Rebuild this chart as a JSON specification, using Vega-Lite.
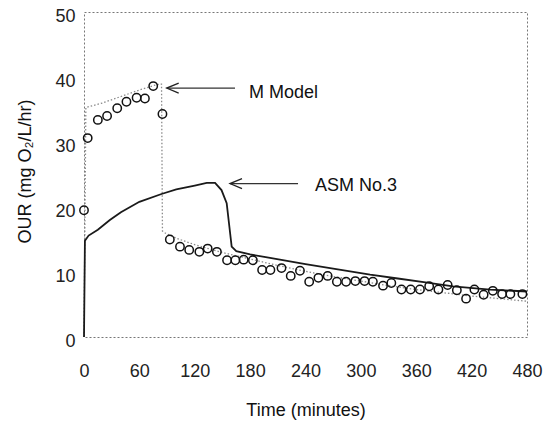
{
  "$schema": "https://vega.github.io/schema/vega-lite/v6.json",
  "autosize": {"type": "none"},
  "width": 443,
  "height": 325,
  "padding": {"left": 84, "top": 12, "right": 26, "bottom": 87},
  "background": "white",
  "config": {
    "view": {"stroke": "#777", "strokeWidth": 1, "strokeDash": [2, 2]},
    "font": "Liberation Sans"
  },
  "datasets": {
    "measured": [
      {"t": 0, "our": 19.5}, {"t": 4, "our": 30.6}, {"t": 15, "our": 33.4}, {"t": 25, "our": 34.0},
      {"t": 36, "our": 35.2}, {"t": 46, "our": 36.2}, {"t": 57, "our": 36.8}, {"t": 66, "our": 36.7},
      {"t": 75, "our": 38.6}, {"t": 85, "our": 34.3},
      {"t": 93, "our": 15.0}, {"t": 104, "our": 13.9}, {"t": 114, "our": 13.4}, {"t": 125, "our": 13.1},
      {"t": 134, "our": 13.6}, {"t": 144, "our": 13.1}, {"t": 155, "our": 11.8}, {"t": 164, "our": 11.8},
      {"t": 173, "our": 11.9}, {"t": 183, "our": 11.8}, {"t": 193, "our": 10.3}, {"t": 202, "our": 10.3},
      {"t": 214, "our": 10.6}, {"t": 224, "our": 9.4}, {"t": 234, "our": 10.2}, {"t": 244, "our": 8.5},
      {"t": 254, "our": 9.1}, {"t": 264, "our": 9.4}, {"t": 274, "our": 8.5}, {"t": 284, "our": 8.5},
      {"t": 294, "our": 8.6}, {"t": 304, "our": 8.6}, {"t": 313, "our": 8.5}, {"t": 324, "our": 7.9},
      {"t": 333, "our": 8.3}, {"t": 344, "our": 7.3}, {"t": 354, "our": 7.3}, {"t": 364, "our": 7.3},
      {"t": 374, "our": 7.8}, {"t": 384, "our": 7.3}, {"t": 394, "our": 8.0}, {"t": 404, "our": 7.2},
      {"t": 414, "our": 5.9}, {"t": 423, "our": 7.3}, {"t": 433, "our": 6.5}, {"t": 443, "our": 7.1},
      {"t": 453, "our": 6.6}, {"t": 462, "our": 6.6}, {"t": 475, "our": 6.6}
    ],
    "mmodel": [
      {"i": 0, "t": 0, "our": 0}, {"i": 1, "t": 2, "our": 35.3}, {"i": 2, "t": 20, "our": 36.0},
      {"i": 3, "t": 40, "our": 37.0}, {"i": 4, "t": 60, "our": 38.0}, {"i": 5, "t": 78, "our": 38.8},
      {"i": 6, "t": 84, "our": 38.9}, {"i": 7, "t": 85, "our": 16.3}, {"i": 8, "t": 88, "our": 16.0},
      {"i": 9, "t": 100, "our": 15.2}, {"i": 10, "t": 120, "our": 14.2}, {"i": 11, "t": 150, "our": 13.0},
      {"i": 12, "t": 180, "our": 12.0}, {"i": 13, "t": 210, "our": 11.0}, {"i": 14, "t": 240, "our": 10.1},
      {"i": 15, "t": 270, "our": 9.3}, {"i": 16, "t": 300, "our": 8.6}, {"i": 17, "t": 330, "our": 7.9},
      {"i": 18, "t": 360, "our": 7.3}, {"i": 19, "t": 390, "our": 6.8}, {"i": 20, "t": 420, "our": 6.3},
      {"i": 21, "t": 450, "our": 5.9}, {"i": 22, "t": 480, "our": 5.5}
    ],
    "asm": [
      {"i": 0, "t": 0, "our": 0}, {"i": 1, "t": 1, "our": 14.8}, {"i": 2, "t": 5, "our": 15.6},
      {"i": 3, "t": 15, "our": 16.5}, {"i": 4, "t": 28, "our": 18.0}, {"i": 5, "t": 40, "our": 19.2},
      {"i": 6, "t": 60, "our": 20.8}, {"i": 7, "t": 84, "our": 22.0}, {"i": 8, "t": 100, "our": 22.7},
      {"i": 9, "t": 120, "our": 23.3}, {"i": 10, "t": 133, "our": 23.7}, {"i": 11, "t": 142, "our": 23.7},
      {"i": 12, "t": 149, "our": 22.6}, {"i": 13, "t": 154.6, "our": 20.6}, {"i": 14, "t": 157.5, "our": 17.0},
      {"i": 15, "t": 160, "our": 13.9}, {"i": 16, "t": 165, "our": 13.2}, {"i": 17, "t": 180, "our": 12.7},
      {"i": 18, "t": 200, "our": 12.2}, {"i": 19, "t": 240, "our": 11.2}, {"i": 20, "t": 280, "our": 10.3},
      {"i": 21, "t": 310, "our": 9.6}, {"i": 22, "t": 340, "our": 9.0}, {"i": 23, "t": 370, "our": 8.4},
      {"i": 24, "t": 400, "our": 7.8}, {"i": 25, "t": 440, "our": 7.3}, {"i": 26, "t": 480, "our": 7.0}
    ],
    "arrows": [
      {"label": "M Model", "t": 89.6, "our": 38.3},
      {"label": "M Model", "t": 163.6, "our": 38.3},
      {"label": "ASM No.3", "t": 158.2, "our": 23.6},
      {"label": "ASM No.3", "t": 231.9, "our": 23.6}
    ],
    "heads": [
      {"label": "M Model", "t": 89.6, "our": 38.3},
      {"label": "ASM No.3", "t": 158.2, "our": 23.6}
    ],
    "labels": [
      {"label": "M Model", "t": 178.8, "our": 37.5},
      {"label": "ASM No.3", "t": 250.3, "our": 23.2}
    ]
  },
  "encoding": {
    "x": {
      "field": "t", "type": "quantitative",
      "scale": {"domain": [0, 480], "nice": false, "zero": false},
      "axis": {
        "title": "Time (minutes)",
        "values": [0, 60, 120, 180, 240, 300, 360, 420, 480],
        "grid": false, "ticks": false, "domain": false,
        "labelFontSize": 18, "labelFont": "Liberation Sans", "labelColor": "#222",
        "labelPadding": 25, "labelFlush": false,
        "titleFontSize": 18, "titleFont": "Liberation Sans", "titleFontWeight": "normal",
        "titleColor": "#111", "titleY": 73, "titleBaseline": "middle"
      }
    },
    "y": {
      "field": "our", "type": "quantitative",
      "scale": {"domain": [0, 50], "nice": false},
      "axis": {
        "title": "OUR (mg O₂/L/hr)",
        "values": [0, 10, 20, 30, 40, 50],
        "grid": false, "ticks": false, "domain": false,
        "labelFontSize": 18, "labelFont": "Liberation Sans", "labelColor": "#222",
        "labelPadding": 9, "labelOffset": 4, "labelFlush": false,
        "titleFontSize": 18, "titleFont": "Liberation Sans", "titleFontWeight": "normal",
        "titleColor": "#111", "titleX": -59, "titleY": 159, "titleAngle": 270,
        "titleBaseline": "middle", "titleAlign": "center"
      }
    }
  },
  "layer": [
    {
      "data": {"name": "mmodel"},
      "mark": {"type": "line", "color": "#8a8a8a", "strokeWidth": 1.3, "strokeDash": [1.5, 2]},
      "encoding": {"order": {"field": "i", "type": "quantitative"}}
    },
    {
      "data": {"name": "asm"},
      "mark": {"type": "line", "color": "#1a1a1a", "strokeWidth": 1.8},
      "encoding": {"order": {"field": "i", "type": "quantitative"}}
    },
    {
      "data": {"name": "measured"},
      "mark": {"type": "point", "shape": "circle", "filled": false, "size": 70, "stroke": "#111", "strokeWidth": 1.5, "opacity": 1}
    },
    {
      "data": {"name": "arrows"},
      "mark": {"type": "line", "color": "#333", "strokeWidth": 1.2},
      "encoding": {"detail": {"field": "label", "type": "nominal"}}
    },
    {
      "data": {"name": "heads"},
      "mark": {"type": "point", "shape": "M 2.4 -1 L 0 0 L 2.4 1", "filled": false, "size": 100, "stroke": "#222", "strokeWidth": 1.3, "opacity": 1}
    },
    {
      "data": {"name": "labels"},
      "mark": {"type": "text", "align": "left", "baseline": "middle", "fontSize": 18, "font": "Liberation Sans", "color": "#111"},
      "encoding": {"text": {"field": "label", "type": "nominal"}}
    }
  ]
}
